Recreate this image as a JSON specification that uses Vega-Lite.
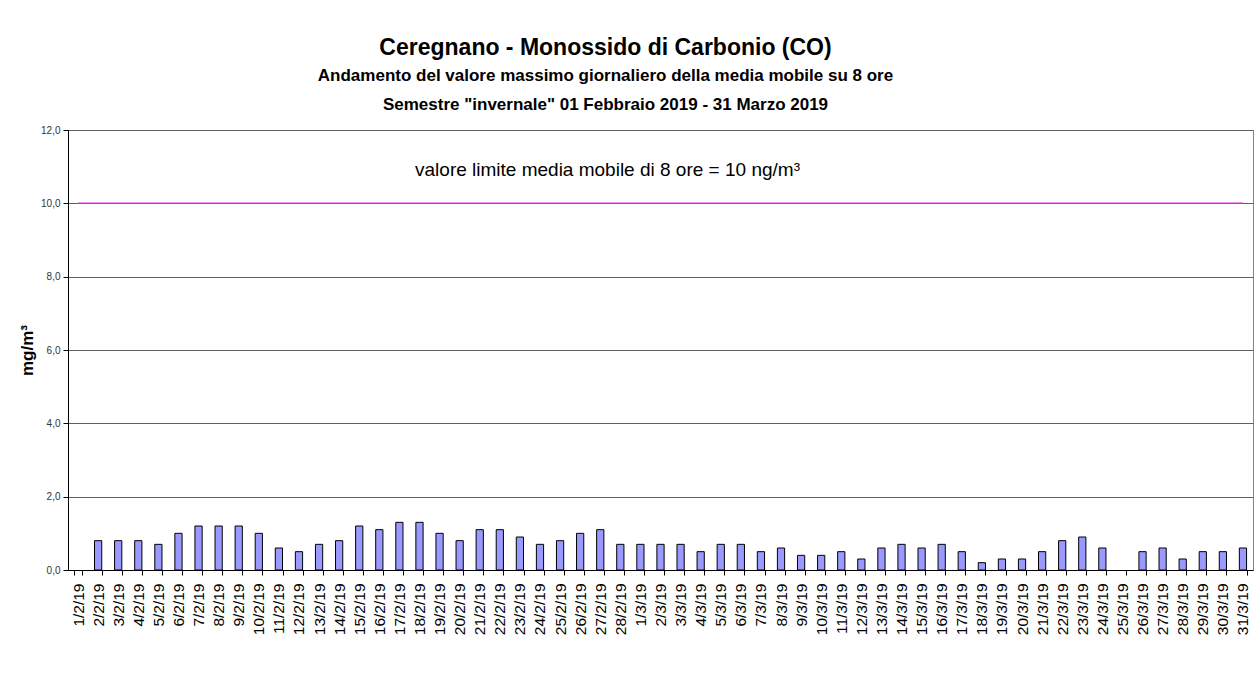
{
  "$schema": "https://vega.github.io/schema/vega-lite/v6.json",
  "autosize": {"type": "none"},
  "width": 1185,
  "height": 440,
  "padding": {"left": 68, "top": 130, "right": 7, "bottom": 113},
  "background": "white",
  "config": {
    "font": "Liberation Sans",
    "view": {"stroke": "#808080", "strokeWidth": 1}
  },
  "title": {
    "text": "Ceregnano - Monossido di Carbonio (CO)",
    "subtitle": ["Andamento del valore massimo giornaliero della media mobile su 8 ore", "Semestre \"invernale\" 01 Febbraio 2019 - 31 Marzo 2019"],
    "anchor": "middle",
    "dx": -55,
    "font": "Liberation Sans",
    "fontSize": 23,
    "fontWeight": "bold",
    "color": "black",
    "subtitleFont": "Liberation Sans",
    "subtitleFontSize": 17,
    "subtitleFontWeight": "bold",
    "subtitleColor": "black",
    "subtitleLineHeight": 29,
    "subtitlePadding": 8,
    "offset": 12
  },
  "datasets": {
    "giorni": [
      {"giorno": "1/2/19", "valore": null, "limite": 10},
      {"giorno": "2/2/19", "valore": 0.8, "limite": 10},
      {"giorno": "3/2/19", "valore": 0.8, "limite": 10},
      {"giorno": "4/2/19", "valore": 0.8, "limite": 10},
      {"giorno": "5/2/19", "valore": 0.7, "limite": 10},
      {"giorno": "6/2/19", "valore": 1.0, "limite": 10},
      {"giorno": "7/2/19", "valore": 1.2, "limite": 10},
      {"giorno": "8/2/19", "valore": 1.2, "limite": 10},
      {"giorno": "9/2/19", "valore": 1.2, "limite": 10},
      {"giorno": "10/2/19", "valore": 1.0, "limite": 10},
      {"giorno": "11/2/19", "valore": 0.6, "limite": 10},
      {"giorno": "12/2/19", "valore": 0.5, "limite": 10},
      {"giorno": "13/2/19", "valore": 0.7, "limite": 10},
      {"giorno": "14/2/19", "valore": 0.8, "limite": 10},
      {"giorno": "15/2/19", "valore": 1.2, "limite": 10},
      {"giorno": "16/2/19", "valore": 1.1, "limite": 10},
      {"giorno": "17/2/19", "valore": 1.3, "limite": 10},
      {"giorno": "18/2/19", "valore": 1.3, "limite": 10},
      {"giorno": "19/2/19", "valore": 1.0, "limite": 10},
      {"giorno": "20/2/19", "valore": 0.8, "limite": 10},
      {"giorno": "21/2/19", "valore": 1.1, "limite": 10},
      {"giorno": "22/2/19", "valore": 1.1, "limite": 10},
      {"giorno": "23/2/19", "valore": 0.9, "limite": 10},
      {"giorno": "24/2/19", "valore": 0.7, "limite": 10},
      {"giorno": "25/2/19", "valore": 0.8, "limite": 10},
      {"giorno": "26/2/19", "valore": 1.0, "limite": 10},
      {"giorno": "27/2/19", "valore": 1.1, "limite": 10},
      {"giorno": "28/2/19", "valore": 0.7, "limite": 10},
      {"giorno": "1/3/19", "valore": 0.7, "limite": 10},
      {"giorno": "2/3/19", "valore": 0.7, "limite": 10},
      {"giorno": "3/3/19", "valore": 0.7, "limite": 10},
      {"giorno": "4/3/19", "valore": 0.5, "limite": 10},
      {"giorno": "5/3/19", "valore": 0.7, "limite": 10},
      {"giorno": "6/3/19", "valore": 0.7, "limite": 10},
      {"giorno": "7/3/19", "valore": 0.5, "limite": 10},
      {"giorno": "8/3/19", "valore": 0.6, "limite": 10},
      {"giorno": "9/3/19", "valore": 0.4, "limite": 10},
      {"giorno": "10/3/19", "valore": 0.4, "limite": 10},
      {"giorno": "11/3/19", "valore": 0.5, "limite": 10},
      {"giorno": "12/3/19", "valore": 0.3, "limite": 10},
      {"giorno": "13/3/19", "valore": 0.6, "limite": 10},
      {"giorno": "14/3/19", "valore": 0.7, "limite": 10},
      {"giorno": "15/3/19", "valore": 0.6, "limite": 10},
      {"giorno": "16/3/19", "valore": 0.7, "limite": 10},
      {"giorno": "17/3/19", "valore": 0.5, "limite": 10},
      {"giorno": "18/3/19", "valore": 0.2, "limite": 10},
      {"giorno": "19/3/19", "valore": 0.3, "limite": 10},
      {"giorno": "20/3/19", "valore": 0.3, "limite": 10},
      {"giorno": "21/3/19", "valore": 0.5, "limite": 10},
      {"giorno": "22/3/19", "valore": 0.8, "limite": 10},
      {"giorno": "23/3/19", "valore": 0.9, "limite": 10},
      {"giorno": "24/3/19", "valore": 0.6, "limite": 10},
      {"giorno": "25/3/19", "valore": null, "limite": 10},
      {"giorno": "26/3/19", "valore": 0.5, "limite": 10},
      {"giorno": "27/3/19", "valore": 0.6, "limite": 10},
      {"giorno": "28/3/19", "valore": 0.3, "limite": 10},
      {"giorno": "29/3/19", "valore": 0.5, "limite": 10},
      {"giorno": "30/3/19", "valore": 0.5, "limite": 10},
      {"giorno": "31/3/19", "valore": 0.6, "limite": 10}
    ],
    "nota": [
      {"testo": "valore limite media mobile di 8 ore = 10 ng/m³", "livello": 11}
    ]
  },
  "layer": [
    {
      "data": {"name": "giorni"},
      "mark": {"type": "bar", "fill": "#9999FF", "stroke": "black", "strokeWidth": 1},
      "encoding": {
        "x": {
          "field": "giorno",
          "type": "nominal",
          "sort": null,
          "scale": {
            "domain": ["1/2/19","2/2/19","3/2/19","4/2/19","5/2/19","6/2/19","7/2/19","8/2/19","9/2/19","10/2/19","11/2/19","12/2/19","13/2/19","14/2/19","15/2/19","16/2/19","17/2/19","18/2/19","19/2/19","20/2/19","21/2/19","22/2/19","23/2/19","24/2/19","25/2/19","26/2/19","27/2/19","28/2/19","1/3/19","2/3/19","3/3/19","4/3/19","5/3/19","6/3/19","7/3/19","8/3/19","9/3/19","10/3/19","11/3/19","12/3/19","13/3/19","14/3/19","15/3/19","16/3/19","17/3/19","18/3/19","19/3/19","20/3/19","21/3/19","22/3/19","23/3/19","24/3/19","25/3/19","26/3/19","27/3/19","28/3/19","29/3/19","30/3/19","31/3/19"],
            "paddingInner": 0.64,
            "paddingOuter": 0.32
          },
          "axis": {
            "title": null,
            "labelAngle": -90,
            "labelAlign": "right",
            "labelBaseline": "middle",
            "labelFont": "Liberation Sans",
            "labelFontSize": 15.5,
            "labelColor": "black",
            "labelPadding": 8,
            "tickBand": "extent",
            "tickColor": "black",
            "tickSize": 5,
            "domainColor": "black",
            "grid": false
          }
        },
        "y": {
          "field": "valore",
          "type": "quantitative",
          "scale": {"domain": [0, 12], "nice": false},
          "axis": {
            "title": "mg/m³",
            "titleFont": "Liberation Sans",
            "titleFontSize": 17,
            "titleFontWeight": "bold",
            "titleColor": "black",
            "titlePadding": 4,
            "values": [0, 2, 4, 6, 8, 10, 12],
            "labelExpr": "replace(format(datum.value, '.1f'), '.', ',')",
            "labelFont": "Liberation Sans",
            "labelFontSize": 10,
            "labelColor": "#333333",
            "labelPadding": 3,
            "tickColor": "black",
            "tickSize": 5,
            "domainColor": "black",
            "grid": true,
            "gridColor": "#606060",
            "gridWidth": 1
          }
        }
      }
    },
    {
      "data": {"name": "giorni"},
      "mark": {"type": "line", "color": "#DD22DD", "strokeWidth": 1.5},
      "encoding": {
        "x": {"field": "giorno", "type": "nominal", "sort": null},
        "y": {"field": "limite", "type": "quantitative"}
      }
    },
    {
      "data": {"name": "nota"},
      "mark": {"type": "text", "font": "Liberation Sans", "fontSize": 19, "color": "black", "dx": -53, "dy": 3, "baseline": "middle"},
      "encoding": {
        "text": {"field": "testo"},
        "y": {"field": "livello", "type": "quantitative"}
      }
    }
  ]
}
